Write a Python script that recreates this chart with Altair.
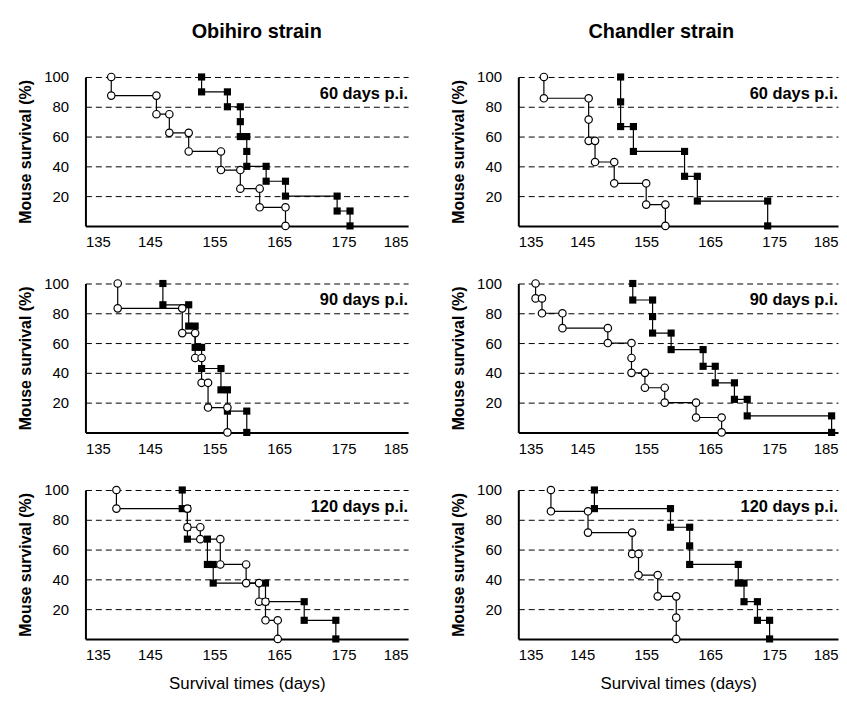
import altair as alt
import pandas as pd

# ---------------- data ----------------
# death times (days) and survival (%) after each death; open circles / filled squares
obihiro_60_open_t = [139, 146, 148, 151, 156, 159, 162, 166]
obihiro_60_open_s = [87.5, 75, 62.5, 50, 37.5, 25, 12.5, 0]
obihiro_60_solid_t = [153, 157, 159, 159, 160, 160, 163, 166, 174, 176]
obihiro_60_solid_s = [90, 80, 70, 60, 50, 40, 30, 20, 10, 0]

chandler_60_open_t = [139, 146, 146, 147, 150, 155, 158]
chandler_60_open_s = [85.7, 71.4, 57.1, 42.9, 28.6, 14.3, 0]
chandler_60_solid_t = [151, 151, 153, 161, 163, 174]
chandler_60_solid_s = [83.3, 66.7, 50, 33.3, 16.7, 0]

obihiro_90_open_t = [140, 150, 152, 153, 154, 157]
obihiro_90_open_s = [83.3, 66.7, 50, 33.3, 16.7, 0]
obihiro_90_solid_t = [147, 151, 152, 153, 156, 157, 160]
obihiro_90_solid_s = [85.7, 71.4, 57.1, 42.9, 28.6, 14.3, 0]

chandler_90_open_t = [137.7, 138.7, 141.9, 149.0, 152.7, 152.7, 154.8, 157.9, 162.8, 166.8]
chandler_90_open_s = [90, 80, 70, 60, 50, 40, 30, 20, 10, 0]
chandler_90_solid_t = [152.9, 156.0, 156.0, 158.9, 163.9, 165.8, 168.8, 170.8, 184.0]
chandler_90_solid_s = [88.9, 77.8, 66.7, 55.6, 44.4, 33.3, 22.2, 11.1, 0]

obihiro_120_open_t = [139.8, 150.8, 152.8, 155.9, 159.9, 161.9, 162.9, 164.8]
obihiro_120_open_s = [87.5, 75, 67, 50, 37.5, 25, 12.5, 0]
obihiro_120_solid_t = [150.0, 150.8, 150.8, 153.9, 154.8, 162.9, 168.9, 173.8]
obihiro_120_solid_s = [87.5, 75, 67, 50, 37.5, 25, 12.5, 0]

chandler_120_open_t = [140.1, 145.9, 152.8, 153.8, 156.8, 159.7, 159.7]
chandler_120_open_s = [85.7, 71.4, 57.1, 42.9, 28.6, 14.3, 0]
chandler_120_solid_t = [146.9, 158.8, 161.8, 161.8, 169.4, 170.3, 172.4, 174.3]
chandler_120_solid_s = [87.5, 75, 62.5, 50, 37.5, 25, 12.5, 0]

x_ticks = [135, 145, 155, 165, 175, 185]
y_ticks = [20, 40, 60, 80, 100]
column_titles = ["Obihiro strain", "Chandler strain"]
row_labels = ["60 days p.i.", "90 days p.i.", "120 days p.i."]
x_title = "Survival times (days)"
y_title = "Mouse survival (%)"

FONT = "Liberation Sans"
H = 150


def step_vertices(times, levels, group):
    rows = [{"t": times[0], "s": 100.0, "group": group, "i": 0}]
    prev = 100.0
    k = 1
    for t, s in zip(times, levels):
        if rows[-1]["t"] != t or rows[-1]["s"] != prev:
            rows.append({"t": t, "s": prev, "group": group, "i": k}); k += 1
        rows.append({"t": t, "s": s, "group": group, "i": k}); k += 1
        prev = s
    return rows


def panel(open_t, open_s, solid_t, solid_s, label, width, bottom, title=None, title_dx=0):
    df = pd.DataFrame(step_vertices(open_t, open_s, "open") +
                      step_vertices(solid_t, solid_s, "solid"))
    base = alt.Chart(df)
    x = alt.X("t:Q",
              scale=alt.Scale(domain=[135, 185], nice=False, zero=False),
              axis=alt.Axis(values=x_ticks, title=x_title if bottom else None,
                            labelFlush=True, grid=False, ticks=False,
                            labelPadding=9, titlePadding=13,
                            labelFontSize=15, labelFont=FONT, labelColor="black",
                            titleFont=FONT, titleColor="black",
                            domainColor="black", domainWidth=2,
                            titleFontWeight="normal", titleFontSize=17))
    y = alt.Y("s:Q",
              scale=alt.Scale(domain=[0, 100], nice=False, zero=True),
              axis=alt.Axis(values=y_ticks, title=y_title, grid=True,
                            gridDash=[6, 4], gridColor="black", gridWidth=1,
                            gridOpacity=1, ticks=False, labelPadding=17,
                            labelFontSize=15, labelFont=FONT, labelColor="black",
                            titleFont=FONT, titleColor="black",
                            domainColor="black", domainWidth=2,
                            titlePadding=10, titleFontWeight="bold",
                            titleFontSize=16))
    lines = base.mark_line(color="black", strokeWidth=1.2).encode(
        x=x, y=y, detail="group:N", order="i:Q")
    squares = base.transform_filter(alt.datum.group == "solid").mark_point(
        shape="square", filled=True, color="black", size=52, opacity=1
    ).encode(x=x, y=y)
    circles = base.transform_filter(alt.datum.group == "open").mark_point(
        shape="circle", filled=True, fill="white", stroke="black",
        strokeWidth=1.2, size=56, opacity=1
    ).encode(x=x, y=y)
    text = alt.Chart(pd.DataFrame({"label": [label]})).mark_text(
        align="right", baseline="middle", fontWeight="bold", fontSize=16.5,
        font=FONT, color="black"
    ).encode(x=alt.value(width), y=alt.value(17), text="label:N")
    props = dict(width=width, height=H)
    if title is not None:
        props["title"] = alt.TitleParams(title, fontSize=20, fontWeight="bold",
                                         font=FONT, anchor="middle", offset=28,
                                         dx=title_dx, color="black")
    return alt.layer(lines, squares, circles, text).properties(**props)


left = alt.vconcat(
    panel(obihiro_60_open_t, obihiro_60_open_s, obihiro_60_solid_t, obihiro_60_solid_s,
          row_labels[0], 325, False, column_titles[0], 10),
    panel(obihiro_90_open_t, obihiro_90_open_s, obihiro_90_solid_t, obihiro_90_solid_s,
          row_labels[1], 325, False),
    panel(obihiro_120_open_t, obihiro_120_open_s, obihiro_120_solid_t, obihiro_120_solid_s,
          row_labels[2], 325, True),
    spacing=27,
)
right = alt.vconcat(
    panel(chandler_60_open_t, chandler_60_open_s, chandler_60_solid_t, chandler_60_solid_s,
          row_labels[0], 322, False, column_titles[1], -17),
    panel(chandler_90_open_t, chandler_90_open_s, chandler_90_solid_t, chandler_90_solid_s,
          row_labels[1], 322, False),
    panel(chandler_120_open_t, chandler_120_open_s, chandler_120_solid_t, chandler_120_solid_s,
          row_labels[2], 322, True),
    spacing=27,
)

chart = alt.hconcat(left, right, spacing=42).properties(
    padding={"left": 9, "top": 12, "right": 1, "bottom": 1},
    background="white",
).configure_view(stroke=None)

chart.save("out.html", embed_options={"renderer": "svg", "actions": False})
